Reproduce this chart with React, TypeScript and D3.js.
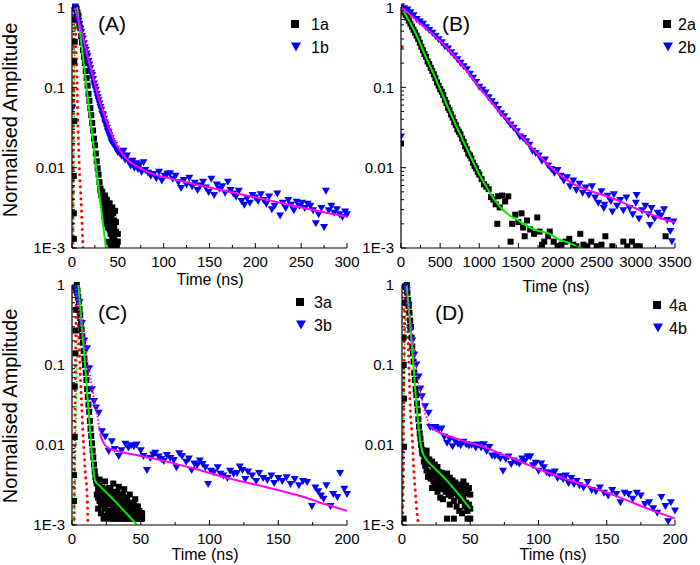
import React from "react";
import * as d3 from "d3";

type P = [number, number];

// ---------- tick values / labels ----------
const yTickValues = [1, 0.1, 0.01, 0.001];
const yTickLabels = ["1", "0.1", "0.01", "1E-3"];
const xTicksA = [0, 50, 100, 150, 200, 250, 300];
const xTicksB = [0, 500, 1000, 1500, 2000, 2500, 3000, 3500];
const xTicksCD = [0, 50, 100, 150, 200];
const panelLabels = ["(A)", "(B)", "(C)", "(D)"];
const seriesNames = [["1a", "1b"], ["2a", "2b"], ["3a", "3b"], ["4a", "4b"]];
const xTitle = "Time (ns)";
const yTitle = "Normalised Amplitude";

// ---------- Panel A data ----------
const s1a: P[] = [
  [2, 0.0013], [2, 0.0027], [2, 0.0079], [2.5, 0.038], [2.5, 0.21], [3, 0.37], [3, 0.7],
  [4, 1.0], [5, 0.95], [6, 0.85], [7, 0.78], [8, 0.62], [9, 0.55], [10, 0.43], [11, 0.36], [12, 0.29],
  [13, 0.24], [14, 0.2], [15, 0.16], [16, 0.13], [17, 0.105], [18, 0.083], [19, 0.068], [20, 0.055],
  [21, 0.045], [22, 0.036], [23, 0.029], [24, 0.023], [25, 0.019], [26, 0.015], [27, 0.012], [28, 0.0098],
  [29, 0.0082], [30, 0.0066], [31, 0.0055], [32, 0.0047], [33, 0.0041], [34, 0.0036], [35, 0.003], [36, 0.0028],
  [31, 0.0052], [32, 0.0045], [33, 0.005], [34, 0.0043], [35, 0.0038], [36, 0.0045], [37, 0.0035], [38, 0.004],
  [39, 0.0033], [40, 0.0028], [41, 0.0036], [42, 0.003], [43, 0.0025], [44, 0.0032], [45, 0.0027], [46, 0.0022],
  [47, 0.0029], [37, 0.0024], [38, 0.002], [39, 0.0018], [40, 0.0022], [41, 0.0017], [42, 0.0015], [43, 0.0019],
  [44, 0.0014], [45, 0.0017], [46, 0.0013], [47, 0.0012], [48, 0.0016], [49, 0.0011], [50, 0.0012], [44, 0.001],
  [48, 0.001], [42, 0.0011], [40, 0.0012], [46, 0.0019], [48, 0.0021], [50, 0.0015], [36, 0.0021], [35, 0.0025],
];
const s1b: P[] = [
  [0.5, 0.055], [2, 0.95], [3, 1.0], [4, 0.85], [5, 0.8], [6, 0.72], [7, 0.66], [8, 0.6], [9, 0.52], [10, 0.48],
  [11, 0.43], [12, 0.4], [13, 0.35], [14, 0.31], [15, 0.29], [16, 0.26], [17, 0.24], [18, 0.21], [19, 0.19],
  [20, 0.17], [21, 0.15], [22, 0.14], [23, 0.125], [24, 0.11], [25, 0.1], [26, 0.092], [27, 0.082], [28, 0.074],
  [29, 0.068], [30, 0.062], [31, 0.056], [32, 0.052], [33, 0.046], [34, 0.045], [35, 0.04], [36, 0.036],
  [37, 0.034], [38, 0.031], [39, 0.028], [40, 0.027], [41, 0.025], [42, 0.023], [43, 0.021], [44, 0.02],
  [46, 0.019], [48, 0.017], [50, 0.0155], [52, 0.015], [54, 0.014],
  [56, 0.016], [58, 0.0125], [60, 0.014], [62, 0.0118], [64, 0.0105], [66, 0.012], [68, 0.0098], [70, 0.0112],
  [72, 0.0095], [74, 0.0108], [76, 0.0088], [78, 0.0115], [80, 0.0092], [83, 0.0085], [86, 0.0078], [89, 0.0082],
  [92, 0.0073], [95, 0.0088], [98, 0.0068], [101, 0.0078], [104, 0.0083], [107, 0.0084], [110, 0.0072],
  [113, 0.0078], [116, 0.0065], [119, 0.0055], [122, 0.0069], [125, 0.0061], [128, 0.0074], [131, 0.0058],
  [134, 0.0064], [137, 0.0052], [140, 0.0059], [143, 0.0066], [146, 0.0056], [149, 0.0049], [152, 0.0072],
  [155, 0.0045], [158, 0.0061], [161, 0.0054], [164, 0.0058], [167, 0.0048], [170, 0.0066], [173, 0.0052],
  [176, 0.0047], [179, 0.0043], [182, 0.0051], [185, 0.0038], [188, 0.0034], [191, 0.0041], [194, 0.0036],
  [197, 0.0045], [200, 0.0042], [203, 0.0038], [206, 0.0046], [209, 0.0039], [212, 0.0035], [215, 0.0043],
  [218, 0.003], [221, 0.0033], [224, 0.0047], [227, 0.0025], [230, 0.0036], [233, 0.0031], [236, 0.0039],
  [239, 0.0034], [242, 0.0029], [245, 0.0037], [248, 0.0033], [251, 0.0036], [254, 0.0031], [257, 0.0035],
  [260, 0.0033], [263, 0.0029], [266, 0.002], [269, 0.0026], [272, 0.0031], [275, 0.0018], [277, 0.0051],
  [280, 0.0029], [283, 0.0033], [286, 0.0027], [289, 0.003], [292, 0.0026], [295, 0.0024], [298, 0.0028], [300, 0.0026],
];
const fit1a: P[] = [[5.5, 1], [21, 0.032], [37, 0.001]];
const fit1b: P[] = [
  [3, 1], [8, 0.62], [12, 0.42], [16, 0.27], [20, 0.18], [25, 0.11], [30, 0.068], [34, 0.05], [40, 0.032],
  [46, 0.022], [52, 0.0165], [60, 0.0127], [70, 0.0105], [78, 0.0093], [90, 0.0082], [110, 0.0072], [140, 0.006],
  [175, 0.0049], [212, 0.004], [250, 0.0032], [300, 0.00245],
];
const irfRedA: P[] = [
  [1, 0.001], [1.5, 0.02], [2, 0.3], [2.8, 1], [3.6, 0.7], [4.5, 0.27], [5.5, 0.125], [6.2, 0.044], [7.3, 0.017],
  [8.4, 0.0078], [9.8, 0.004], [11, 0.0019], [12, 0.001],
];
const irfGreenA: P[] = [[1.5, 0.001], [2, 0.01], [2.6, 0.1], [3.2, 0.5], [3.8, 1]];

// ---------- Panel B data ----------
const s2a: P[] = [
  [0, 0.02], [0, 0.95], [20, 0.93], [40, 0.88], [60, 0.8], [80, 0.74], [100, 0.68], [120, 0.62], [140, 0.57],
  [160, 0.52], [180, 0.48], [200, 0.44], [220, 0.4], [240, 0.36], [260, 0.32], [280, 0.29], [300, 0.26],
  [320, 0.24], [340, 0.21], [360, 0.195], [380, 0.175], [400, 0.16], [420, 0.145], [440, 0.13], [460, 0.115],
  [480, 0.105], [500, 0.095], [520, 0.088], [540, 0.08], [560, 0.07], [580, 0.064], [600, 0.056], [620, 0.052],
  [640, 0.046], [660, 0.042], [680, 0.037], [700, 0.034], [720, 0.03], [740, 0.028], [760, 0.026], [780, 0.023],
  [800, 0.021], [820, 0.0185], [840, 0.017], [860, 0.015], [880, 0.0142], [900, 0.013], [920, 0.0115],
  [940, 0.0105], [960, 0.0098], [980, 0.0088], [1000, 0.0082], [1030, 0.0072], [1060, 0.0062], [1090, 0.0058],
  [1120, 0.0054], [1150, 0.0043], [1180, 0.004], [1210, 0.0035], [1240, 0.0044], [1260, 0.0032], [1290, 0.0045],
  [1330, 0.0038], [1370, 0.0044], [1230, 0.002], [1400, 0.0012], [1420, 0.002], [1460, 0.0026], [1500, 0.0021],
  [1540, 0.0027], [1560, 0.0018], [1580, 0.0014], [1610, 0.0022], [1650, 0.0017], [1700, 0.0015], [1740, 0.0024],
  [1770, 0.0016], [1800, 0.0011], [1830, 0.0012], [1880, 0.0014], [1900, 0.0016], [1950, 0.0012], [2000, 0.00105],
  [2050, 0.0011], [2100, 0.0012], [2150, 0.0013], [2200, 0.0011], [2240, 0.00105], [2290, 0.0015], [2330, 0.0011],
  [2380, 0.00105], [2430, 0.0012], [2500, 0.00105], [2560, 0.0011], [2610, 0.0014], [2700, 0.00105],
  [2840, 0.0012], [2890, 0.00105], [2950, 0.0012], [3000, 0.00105], [3050, 0.00105], [3380, 0.0014],
];
const s2b: P[] = [
  [0, 0.024], [0, 1.0], [40, 0.95], [80, 0.92], [120, 0.85], [160, 0.78], [200, 0.7], [240, 0.65], [280, 0.61],
  [320, 0.55], [360, 0.51], [400, 0.47], [440, 0.43], [480, 0.39], [520, 0.36], [560, 0.32], [600, 0.3],
  [640, 0.27], [680, 0.245], [720, 0.22], [760, 0.2], [800, 0.18], [840, 0.165], [880, 0.145], [920, 0.13],
  [960, 0.115], [1000, 0.1], [1040, 0.092], [1080, 0.085], [1120, 0.074], [1160, 0.066], [1200, 0.06],
  [1240, 0.053], [1280, 0.047], [1320, 0.043], [1360, 0.038], [1400, 0.034], [1440, 0.031], [1480, 0.028],
  [1520, 0.024], [1560, 0.023], [1600, 0.021], [1640, 0.019], [1680, 0.016], [1720, 0.015], [1760, 0.014],
  [1800, 0.012], [1840, 0.0125], [1880, 0.0105], [1920, 0.0095], [1960, 0.0085], [2000, 0.0092], [2040, 0.0078],
  [2080, 0.0068], [2120, 0.0075], [2160, 0.0058], [2200, 0.0068], [2240, 0.0052], [2280, 0.0062], [2320, 0.0048],
  [2360, 0.0056], [2400, 0.0045], [2440, 0.0058], [2480, 0.0042], [2520, 0.0036], [2560, 0.005], [2600, 0.0034],
  [2640, 0.0044], [2680, 0.0038], [2720, 0.0046], [2760, 0.0033], [2800, 0.0039], [2840, 0.0029], [2880, 0.0042],
  [2920, 0.0031], [2960, 0.0026], [3000, 0.0036], [3040, 0.0023], [3080, 0.0029], [3120, 0.0033], [3160, 0.0026],
  [3200, 0.0031], [3240, 0.0023], [3280, 0.0027], [3320, 0.0025], [3360, 0.003], [3400, 0.0022], [3440, 0.0016],
  [3480, 0.0021], [3010, 0.0045], [3180, 0.0019], [3460, 0.0012], [2590, 0.0031], [2700, 0.0028],
];
const fit2a: P[] = [
  [0, 1], [100, 0.68], [200, 0.44], [300, 0.26], [400, 0.16], [500, 0.095], [600, 0.056], [700, 0.034],
  [800, 0.021], [900, 0.013], [1000, 0.0082], [1100, 0.0056], [1200, 0.0039], [1300, 0.003], [1400, 0.0025],
  [1500, 0.0022], [1600, 0.0019], [1700, 0.0017], [1800, 0.0016], [1900, 0.0015], [2000, 0.0013], [2100, 0.0012],
  [2200, 0.0011], [2300, 0.001],
];
const fit2b: P[] = [
  [0, 1], [200, 0.68], [400, 0.46], [600, 0.3], [800, 0.18], [1000, 0.1], [1200, 0.058], [1400, 0.035],
  [1600, 0.021], [1800, 0.013], [2000, 0.0085], [2200, 0.0063], [2400, 0.0052], [2600, 0.0045], [2800, 0.0038],
  [3000, 0.0031], [3200, 0.0026], [3400, 0.0022], [3500, 0.0021],
];
const dotsRedB: P[] = [[0, 0.32]];

// ---------- Panel C data ----------
const s3a: P[] = [
  [1.5, 0.002], [1.5, 0.0042], [2, 0.0126], [2, 0.054], [2.5, 0.14], [2.5, 0.27], [3, 0.49],
  [3, 0.9], [3.5, 1.0], [4, 0.85], [4.5, 0.7], [5, 0.62], [5.5, 0.5], [6, 0.42], [6.5, 0.34], [7, 0.28],
  [7.5, 0.23], [8, 0.19], [8.5, 0.15], [9, 0.12], [9.5, 0.1], [10, 0.08], [10.5, 0.065], [11, 0.05],
  [11.5, 0.04], [12, 0.032], [12.5, 0.026], [13, 0.02], [13.5, 0.016], [14, 0.013], [14.5, 0.0105],
  [15, 0.0085], [15.5, 0.007], [16, 0.0057], [16.5, 0.0047], [17, 0.004], [17.5, 0.0036],
  [18, 0.0033], [18, 0.0024], [19, 0.0028], [19, 0.0016], [20, 0.0031], [20, 0.002], [21, 0.0026], [21, 0.0014],
  [22, 0.0029], [22, 0.0018], [23, 0.0024], [23, 0.0012], [24, 0.0027], [24, 0.0016], [25, 0.0022], [25, 0.0013],
  [26, 0.0026], [26, 0.0018], [27, 0.0021], [27, 0.0012], [28, 0.0024], [28, 0.0015], [29, 0.0019], [29, 0.0013],
  [30, 0.0023], [30, 0.0016], [31, 0.0018], [31, 0.0012], [32, 0.0021], [32, 0.0014], [33, 0.0017], [33, 0.0012],
  [34, 0.002], [34, 0.0015], [35, 0.0018], [35, 0.0012], [36, 0.0016], [36, 0.0013], [37, 0.0019], [37, 0.0012],
  [38, 0.0015], [39, 0.0017], [39, 0.0012], [40, 0.0014], [41, 0.0016], [41, 0.0012], [42, 0.0013], [43, 0.0015],
  [44, 0.0012], [45, 0.0013], [46, 0.0012], [47, 0.0014], [48, 0.0012], [49, 0.0013], [50, 0.0012], [51, 0.0012],
  [20, 0.0037], [24, 0.0035], [28, 0.0029], [33, 0.0026], [37, 0.0024], [30, 0.0033], [34, 0.003], [38, 0.0028],
  [42, 0.0024], [46, 0.0021], [48, 0.0017],
  [19, 0.0022], [20, 0.0026], [21, 0.0019], [22, 0.0023], [23, 0.0017], [24, 0.0021], [25, 0.0028], [26, 0.0014],
  [27, 0.0029], [28, 0.0019], [29, 0.0026], [30, 0.0012], [31, 0.0025], [32, 0.0017], [33, 0.0022], [34, 0.0013],
  [35, 0.0024], [36, 0.0019], [37, 0.0015], [38, 0.0022], [39, 0.0019], [40, 0.0021], [40, 0.0012], [41, 0.0019],
  [42, 0.0017], [43, 0.0019], [44, 0.0016], [45, 0.0018], [46, 0.0015], [47, 0.0017], [49, 0.0015], [50, 0.0014],
  [51, 0.0014], [43, 0.0012], [45, 0.0015], [47, 0.0012], [49, 0.0012],
];
const s3b: P[] = [
  [2, 0.9], [3, 0.8], [4, 0.7], [5.5, 0.6], [7.3, 0.33], [9, 0.2], [10.9, 0.16], [12.5, 0.09], [14.5, 0.049],
  [16, 0.035], [17.5, 0.029], [19.4, 0.025], [21.8, 0.0146], [24.2, 0.0126], [26.7, 0.0083], [29, 0.011],
  [31, 0.0088], [34, 0.0072], [36, 0.0085], [38.8, 0.0102], [41, 0.0092], [43, 0.0098], [45, 0.0095], [47, 0.01],
  [50, 0.0085], [52, 0.0072], [54.5, 0.0048], [57, 0.0068], [59, 0.0075], [60.6, 0.0079], [63, 0.0071],
  [65, 0.0066], [66.7, 0.0062], [69, 0.0074], [71.5, 0.0068], [74, 0.0064], [76, 0.0052], [78, 0.0078],
  [80, 0.0072], [83, 0.0061], [85, 0.0067], [87, 0.0048], [89, 0.0058], [91, 0.0055], [93, 0.0063], [95, 0.0057],
  [97, 0.0052], [99, 0.0032], [101, 0.0047], [103, 0.0045], [106, 0.0052], [108, 0.0043], [110, 0.0041],
  [113, 0.0038], [115, 0.0047], [117.6, 0.0043], [120, 0.0044], [122, 0.0053], [124, 0.0048], [126, 0.0037],
  [128, 0.0046], [131, 0.0041], [134, 0.0035], [136, 0.0044], [139, 0.0038], [142, 0.0036], [145, 0.0041],
  [147, 0.0033], [150, 0.0038], [153, 0.0035], [156, 0.0039], [159, 0.0032], [162, 0.0037], [165, 0.0031],
  [168, 0.0035], [171, 0.0034], [174.5, 0.0017], [177, 0.0029], [179, 0.0026], [181, 0.0023], [183, 0.0021],
  [185, 0.0031], [188, 0.0017], [190, 0.0024], [193, 0.0022], [195, 0.0044], [198, 0.0028], [200, 0.0024],
];
const fit3a: P[] = [
  [4.6, 1], [7, 0.33], [9.45, 0.105], [11, 0.045], [13.1, 0.0155], [15, 0.0062], [16.7, 0.0036], [20, 0.0031],
  [27.6, 0.0023], [35, 0.0017], [47.3, 0.001],
];
const fit3bEarly: P[] = [
  [2.5, 1], [3.4, 0.75], [5, 0.5], [6.5, 0.35], [8.3, 0.24], [10.5, 0.13], [13.1, 0.075], [15.5, 0.042],
  [18, 0.026], [19.5, 0.018], [20.6, 0.0133],
];
const fit3bLate: P[] = [
  [20.6, 0.0133], [22, 0.0115], [25, 0.0095], [30, 0.0087], [40, 0.0079], [50, 0.0073], [69, 0.0062], [90, 0.005],
  [117.6, 0.0037], [140, 0.003], [166, 0.0023], [185, 0.0018], [200, 0.0015],
];
const irfRedC: P[] = [
  [1.5, 0.001], [2, 0.01], [2.5, 0.1], [3, 0.5], [3.7, 1], [4.5, 0.4], [5.2, 0.18], [6, 0.078], [7.3, 0.025],
  [8.5, 0.0095], [9.7, 0.0044], [10.9, 0.0025], [11.6, 0.001],
];
const irfGreenC: P[] = [[1.5, 0.001], [2.5, 0.008], [3.3, 0.05], [4, 0.3], [4.5, 1]];

// ---------- Panel D data ----------
const s4a: P[] = [
  [1.2, 0.0012], [1.5, 0.0095], [1.5, 0.038], [1.2, 0.1], [1.2, 0.22], [2, 0.6],
  [3, 0.95], [3.5, 1.0], [4, 0.8], [4.5, 0.65], [5, 0.55], [5.5, 0.45], [6, 0.36], [6.5, 0.3], [7, 0.22],
  [7.5, 0.17], [8, 0.14], [8.5, 0.11], [9, 0.08], [9.5, 0.065], [10, 0.05], [10.5, 0.042], [11, 0.033],
  [11.5, 0.027], [12, 0.021], [12.5, 0.017], [13, 0.014], [13.5, 0.012], [14, 0.01], [14.5, 0.0088],
  [15, 0.0082], [16, 0.0075], [17, 0.0068],
  [15, 0.0078], [16, 0.0062], [16, 0.0085], [17, 0.0055], [17, 0.0078], [18, 0.0048], [18, 0.0072], [18, 0.0085],
  [19, 0.0058], [19, 0.004], [20, 0.0066], [20, 0.0045], [21, 0.0058], [21, 0.0038], [22, 0.0062], [22, 0.0042],
  [22, 0.0029], [23, 0.0052], [23, 0.0035], [24, 0.0057], [24, 0.0044], [24, 0.003], [25, 0.0048], [25, 0.0036],
  [26, 0.0053], [26, 0.004], [26, 0.0026], [27, 0.0046], [27, 0.0033], [28, 0.0042], [28, 0.0029], [28, 0.0022],
  [29, 0.0045], [29, 0.0035], [30, 0.004], [30, 0.0028], [30, 0.0021], [31, 0.0043], [31, 0.0032], [32, 0.0038],
  [32, 0.0026], [33, 0.0044], [33, 0.003], [33, 0.0012], [34, 0.0035], [34, 0.0024], [35, 0.0039], [35, 0.0028],
  [35, 0.0018], [36, 0.0033], [36, 0.0023], [37, 0.0036], [37, 0.0027], [38, 0.0031], [38, 0.002], [38, 0.0012],
  [39, 0.0034], [39, 0.0025], [40, 0.0029], [40, 0.0017], [41, 0.0032], [41, 0.0023], [42, 0.0027], [42, 0.0015],
  [43, 0.003], [43, 0.002], [44, 0.0026], [44, 0.0014], [45, 0.0035], [45, 0.0022], [46, 0.0028], [46, 0.0017],
  [47, 0.0031], [47, 0.0019], [48, 0.0025], [48, 0.0015], [48, 0.0012], [49, 0.0029], [49, 0.0018], [50, 0.0024],
  [50, 0.0016], [50, 0.0012],
];
const s4b: P[] = [
  [1, 0.95], [2, 0.9], [3.5, 0.85], [4.9, 0.56], [6.1, 0.27], [7.5, 0.2], [9, 0.133], [10.5, 0.1], [12.2, 0.071],
  [13.5, 0.05], [14.6, 0.04], [17, 0.03], [19.5, 0.025], [20.7, 0.0165], [22.5, 0.0165], [24.4, 0.0165],
  [26.8, 0.0155], [29, 0.0158], [31, 0.0125], [33, 0.0105], [35, 0.0116], [37, 0.0095], [39, 0.011], [41, 0.0102],
  [43, 0.0098], [45, 0.0108], [47, 0.0101], [49, 0.0097], [51, 0.0099], [54, 0.0092], [56, 0.01], [58, 0.0092],
  [60, 0.0101], [62, 0.0083], [64, 0.0093], [66, 0.0073], [68, 0.0072], [70, 0.0074], [72, 0.0067], [74, 0.0047],
  [76, 0.0066], [78, 0.0071], [80, 0.0057], [82, 0.0063], [84, 0.006], [86, 0.0058], [88, 0.0067], [90, 0.0062],
  [92, 0.0071], [94, 0.0071], [96, 0.0055], [98, 0.0059], [100, 0.0047], [102, 0.0058], [104, 0.0052],
  [106, 0.0045], [108, 0.0043], [110, 0.0044], [112, 0.0046], [114, 0.0038], [116, 0.004], [118, 0.0037],
  [120, 0.0041], [122, 0.0033], [124, 0.0038], [126, 0.0032], [128, 0.0035], [130, 0.0031], [133, 0.0029],
  [136, 0.0034], [139, 0.0027], [142, 0.0026], [145, 0.0029], [148, 0.0025], [151, 0.0023], [154, 0.0027],
  [157, 0.0024], [160, 0.0019], [163, 0.0025], [166, 0.0024], [169, 0.0021], [172, 0.0025], [175, 0.0023],
  [178, 0.0018], [181, 0.0019], [184, 0.0016], [187, 0.0014], [190, 0.0022], [193, 0.0017], [195, 0.0011],
  [197, 0.0019], [200, 0.0015],
];
const fit4a: P[] = [
  [3.4, 1], [5, 0.5], [6.5, 0.26], [8.3, 0.105], [9.5, 0.055], [10.7, 0.03], [12, 0.018], [13.2, 0.0117],
  [14.5, 0.0088], [16, 0.0074], [18.1, 0.0065], [24, 0.0051], [30.3, 0.004], [40, 0.0026], [50, 0.0016],
];
const fit4bEarly: P[] = [
  [2, 1], [4, 0.6], [7.1, 0.26], [10.7, 0.08], [14.4, 0.038], [17, 0.025], [20.7, 0.017],
];
const fit4bLate: P[] = [
  [20.7, 0.017], [25, 0.015], [35.4, 0.0127], [47, 0.011], [59.8, 0.0095], [72, 0.0078], [84, 0.0065],
  [96, 0.0053], [108.5, 0.0044], [130, 0.0033], [157, 0.0023], [180, 0.0016], [200, 0.0012],
];
const irfRedD: P[] = [
  [0.5, 0.001], [1, 0.01], [1.5, 0.1], [2, 0.5], [2.8, 1], [3.5, 0.6], [4.3, 0.25], [5.2, 0.08], [6, 0.03],
  [7.3, 0.014], [8.5, 0.0053], [9.8, 0.0025], [11, 0.0014], [12.2, 0.001],
];
const irfGreenD: P[] = [[0.5, 0.001], [1, 0.01], [1.8, 0.1], [2.8, 0.5], [3.5, 1]];

// ---------- layout (positions only) ----------
interface Layout {
  x0: number; x1: number; y0: number; y1: number; xMax: number; xTicks: number[]; minorStep: number;
  labelX: number; labelY: number; legX: number; legY: number; legTX: number;
  xtX: number; xtY: number; ytY: number; tickLabelRight: number;
}
const layouts: Layout[] = [
  { x0: 72, x1: 347, y0: 7, y1: 248, xMax: 300, xTicks: xTicksA, minorStep: 25, labelX: 98, labelY: 31,
    legX: 295, legY: 24, legTX: 311, xtX: 210, xtY: 285, ytY: 120, tickLabelRight: 65 },
  { x0: 401, x1: 675, y0: 7, y1: 248, xMax: 3500, xTicks: xTicksB, minorStep: 250, labelX: 442, labelY: 31,
    legX: 667, legY: 24, legTX: 678, xtX: 556, xtY: 292, ytY: 120, tickLabelRight: 394 },
  { x0: 72, x1: 347, y0: 285, y1: 525, xMax: 200, xTicks: xTicksCD, minorStep: 25, labelX: 98, labelY: 320,
    legX: 300, legY: 302, legTX: 314, xtX: 205, xtY: 560, ytY: 406, tickLabelRight: 65 },
  { x0: 402, x1: 675, y0: 285, y1: 525, xMax: 200, xTicks: xTicksCD, minorStep: 25, labelX: 435, labelY: 320,
    legX: 657, legY: 305, legTX: 669, xtX: 553, xtY: 560, ytY: 406, tickLabelRight: 394 },
];

interface PanelData {
  a: P[]; b: P[]; fitA: P[]; fitBEarly: P[] | null; fitB: P[]; irfRed: P[] | null; irfGreen: P[] | null;
  redDots: P[] | null;
}
const panelData: PanelData[] = [
  { a: s1a, b: s1b, fitA: fit1a, fitBEarly: null, fitB: fit1b, irfRed: irfRedA, irfGreen: irfGreenA, redDots: null },
  { a: s2a, b: s2b, fitA: fit2a, fitBEarly: null, fitB: fit2b, irfRed: null, irfGreen: null, redDots: dotsRedB },
  { a: s3a, b: s3b, fitA: fit3a, fitBEarly: fit3bEarly, fitB: fit3bLate, irfRed: irfRedC, irfGreen: irfGreenC, redDots: null },
  { a: s4a, b: s4b, fitA: fit4a, fitBEarly: fit4bEarly, fitB: fit4bLate, irfRed: irfRedD, irfGreen: irfGreenD, redDots: null },
];

const FONT = "'Liberation Sans', Arial, Helvetica, sans-serif";
const BLUE = "#0000ff";
const MAGENTA = "#ff00ff";
const GREEN = "#00ee00";
const RED = "#ff0000";

const tri = (cx: number, cy: number, w: number, h: number) =>
  `M${cx - w / 2},${cy - h / 2}L${cx + w / 2},${cy - h / 2}L${cx},${cy + h / 2}Z`;

function Panel({ L, D, idx }: { L: Layout; D: PanelData; idx: number }) {
  const x = d3.scaleLinear().domain([0, L.xMax]).range([L.x0, L.x1]);
  const y = d3.scaleLog().domain([0.001, 1]).range([L.y1, L.y0]);
  const line = d3.line<P>().x((d) => x(d[0])).y((d) => y(d[1])).curve(d3.curveMonotoneX);
  const clipId = `clip-${idx}`;
  const minorX: number[] = [];
  for (let v = L.minorStep; v < L.xMax; v += L.minorStep * 2) minorX.push(v);
  const minorY: number[] = [];
  [0.001, 0.01, 0.1].forEach((dec) => { for (let k = 2; k <= 9; k++) minorY.push(dec * k); });

  return (
    <g>
      <defs>
        <clipPath id={clipId}>
          <rect x={L.x0} y={L.y0 - 5} width={L.x1 - L.x0 + 5} height={L.y1 - L.y0 + 5} />
        </clipPath>
      </defs>
      <g clipPath={`url(#${clipId})`}>
        {D.irfGreen && (
          <path d={line(D.irfGreen) || ""} fill="none" stroke={GREEN} strokeWidth={2}
            strokeDasharray="0.1 4" strokeLinecap="round" />
        )}
        {D.irfRed && (
          <path d={line(D.irfRed) || ""} fill="none" stroke={RED} strokeWidth={3}
            strokeDasharray="0.1 6" strokeLinecap="round" />
        )}
        {D.redDots && D.redDots.map((d, i) => (
          <circle key={`rd${i}`} cx={x(d[0]) + 1} cy={y(d[1])} r={1.8} fill={RED} />
        ))}
        {D.a.map((d, i) => (
          <rect key={`a${i}`} x={x(d[0]) - 3} y={y(d[1]) - 3} width={6} height={6} fill="#000" />
        ))}
        {D.b.map((d, i) => (
          <path key={`b${i}`} d={tri(x(d[0]), y(d[1]), 8, 7)} fill={BLUE} />
        ))}
        <path d={line(D.fitA) || ""} fill="none" stroke={GREEN} strokeWidth={2} />
        {D.fitBEarly && (
          <path d={line(D.fitBEarly) || ""} fill="none" stroke={MAGENTA} strokeWidth={2}
            strokeDasharray="1.5 2" />
        )}
        <path d={line(D.fitB) || ""} fill="none" stroke={MAGENTA} strokeWidth={2} />
      </g>

      {/* axes */}
      <line x1={L.x0} x2={L.x0} y1={L.y0} y2={L.y1} stroke="#000" strokeWidth={1.2} />
      <line x1={L.x0} x2={L.x1} y1={L.y1} y2={L.y1} stroke="#000" strokeWidth={1.2} />
      {L.xTicks.map((t) => (
        <g key={`xt${t}`}>
          <line x1={x(t)} x2={x(t)} y1={L.y1} y2={L.y1 - 5} stroke="#000" strokeWidth={1} />
          <text x={x(t)} y={L.y1 + 19} textAnchor="middle" fontSize={15} fontFamily={FONT}>{t}</text>
        </g>
      ))}
      {minorX.map((t) => (
        <line key={`xm${t}`} x1={x(t)} x2={x(t)} y1={L.y1} y2={L.y1 - 3} stroke="#000" strokeWidth={1} />
      ))}
      {yTickValues.map((v, i) => (
        <g key={`yt${v}`}>
          <line x1={L.x0} x2={L.x0 + 5} y1={y(v)} y2={y(v)} stroke="#000" strokeWidth={1} />
          <text x={L.tickLabelRight} y={Math.max(y(v), 8)} dy="0.36em" textAnchor="end" fontSize={15} fontFamily={FONT}>
            {yTickLabels[i]}
          </text>
        </g>
      ))}
      {minorY.map((v) => (
        <line key={`ym${v}`} x1={L.x0} x2={L.x0 + 3} y1={y(v)} y2={y(v)} stroke="#000" strokeWidth={1} />
      ))}

      {/* titles */}
      <text x={L.xtX} y={L.xtY} textAnchor="middle" fontSize={16} fontFamily={FONT}>{xTitle}</text>
      {idx % 2 === 0 && (
        <text transform={`translate(17,${L.ytY}) rotate(-90)`} textAnchor="middle" fontSize={20} fontFamily={FONT}>
          {yTitle}
        </text>
      )}
      <text x={L.labelX} y={L.labelY} fontSize={21} fontFamily={FONT}>{panelLabels[idx]}</text>

      {/* legend */}
      <rect x={L.legX - 4} y={L.legY - 4} width={8} height={8} fill="#000" />
      <text x={L.legTX} y={L.legY} dy="0.36em" fontSize={16} fontFamily={FONT}>{seriesNames[idx][0]}</text>
      <path d={tri(L.legX + 1, L.legY + 23, 10, 9)} fill={BLUE} />
      <text x={L.legTX} y={L.legY + 23} dy="0.36em" fontSize={16} fontFamily={FONT}>{seriesNames[idx][1]}</text>
    </g>
  );
}

export default function App() {
  return (
    <svg width={700} height={565} viewBox="0 0 700 565"
      style={{ position: "absolute", left: 0, top: 0, background: "#fff" }}>
      <rect x={0} y={0} width={700} height={565} fill="#fff" />
      {layouts.map((L, i) => (
        <Panel key={i} L={L} D={panelData[i]} idx={i} />
      ))}
    </svg>
  );
}
